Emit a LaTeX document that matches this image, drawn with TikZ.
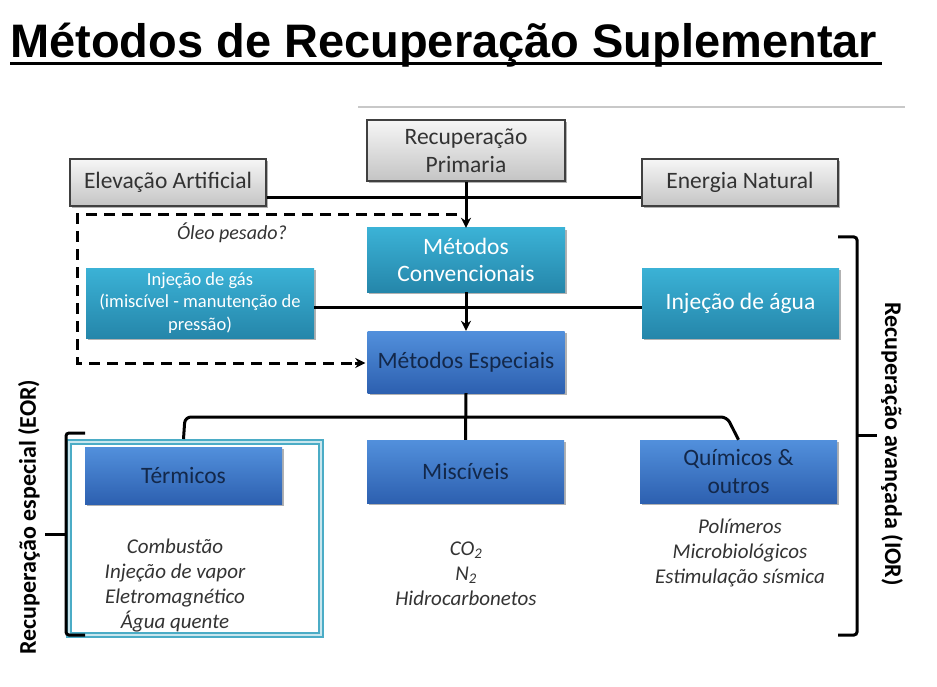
\documentclass[tikz,border=0pt]{standalone}
\usepackage{fontspec}
\setmainfont{Carlito}
\newfontfamily\titlefont{Liberation Sans}
\usetikzlibrary{shadows,arrows.meta}
\definecolor{grayTop}{HTML}{F6F6F6}
\definecolor{grayBot}{HTML}{C4C4C4}
\definecolor{grayEdge}{HTML}{404040}
\definecolor{tealTop}{HTML}{3BB2D6}
\definecolor{tealBot}{HTML}{2586AA}
\definecolor{blueTop}{HTML}{5290DC}
\definecolor{blueBot}{HTML}{2D60B0}
\definecolor{navy}{HTML}{13284A}
\definecolor{txtgray}{HTML}{333333}
\definecolor{frameC}{HTML}{4BACC6}
\definecolor{ruleGray}{HTML}{C8C8C8}
\tikzset{
  box/.style={rectangle, inner sep=2pt, align=center,
    drop shadow={shadow xshift=2pt, shadow yshift=-2pt, opacity=0.3, fill=black}},
  graybox/.style={box, draw=grayEdge, line width=1.3pt, top color=grayTop, bottom color=grayBot,
    text=txtgray, font=\fontsize{23.5}{27.5}\selectfont},
  tealbox/.style={box, top color=tealTop, bottom color=tealBot, text=white,
    font=\fontsize{23.5}{27.5}\selectfont},
  bluebox/.style={box, top color=blueTop, bottom color=blueBot, text=navy,
    font=\fontsize{23.5}{27.5}\selectfont},
  listtxt/.style={align=center, text=txtgray, font=\itshape\fontsize{21}{25}\selectfont},
  conn/.style={draw=black, line width=3pt},
  arr/.style={conn, -{Stealth[length=10pt,width=10pt]}},
  dashconn/.style={draw=black, line width=3pt, dash pattern=on 11pt off 7pt},
  bracket/.style={draw=black, line width=3pt, rounded corners=3pt},
  sidelabel/.style={font=\bfseries\fontsize{24}{28}\selectfont, text=black},
}
\begin{document}
\begin{tikzpicture}[x=1pt,y=-1pt]
\useasboundingbox[fill=white] (0,0) rectangle (937,687);

% title
\node[anchor=base west, inner sep=0pt] (title) at (10,57.5)
  {\titlefont\bfseries\fontsize{47}{50}\selectfont Métodos de Recuperação Suplementar};
\draw[line width=3.5pt] (10,63.5) -- (882,63.5);
\draw[ruleGray, line width=2pt] (358,107) -- (905,107);

% top row
\node[graybox, minimum width=198, minimum height=61] (rp) at (466,150.5) {Recuperação\\Primaria};
\node[graybox, minimum width=196, minimum height=47] (elev) at (168,182.5) {Elevação Artificial};
\node[graybox, minimum width=196, minimum height=47] (ener) at (740,182.5) {Energia Natural};

% conventional
\node[tealbox, minimum width=198, minimum height=64] (conv) at (466,260) {Métodos\\Convencionais};
\node[tealbox, minimum width=228, minimum height=70, font=\fontsize{18.5}{22.5}\selectfont] (gas) at (200,303)
  {Injeção de gás\\(imiscível - manutenção de\\pressão)};
\node[tealbox, minimum width=197, minimum height=70] (water) at (740.5,303) {Injeção de água};

% special
\node[bluebox, minimum width=197, minimum height=62] (esp) at (466,362) {Métodos Especiais};

% frame around thermal
\node[draw=frameC, line width=6pt, minimum width=252, minimum height=193, inner sep=0pt] (frm) at (195,538.5) {};
\node[draw=white!70!frameC, line width=1.3pt, minimum width=252, minimum height=193, inner sep=0pt] at (195,538.5) {};

% bottom row
\node[bluebox, minimum width=197, minimum height=57] (term) at (183.5,475.5) {Térmicos};
\node[bluebox, minimum width=197, minimum height=63] (mis) at (465.5,471.5) {Miscíveis};
\node[bluebox, minimum width=197, minimum height=63] (qui) at (738.5,471.5) {Químicos \&\\outros};

% lists
\node[listtxt] (lterm) at (175,585.5) {Combustão\\Injeção de vapor\\Eletromagnético\\Água quente};
\node[listtxt] (lmis) at (466,574) {CO\textsubscript{2}\\N\textsubscript{2}\\Hidrocarbonetos};
\node[listtxt] (lqui) at (740,553) {Polímeros\\Microbiológicos\\Estimulação sísmica};
\node[text=txtgray, font=\itshape\fontsize{20}{24}\selectfont] (oleo) at (232,233) {Óleo pesado?};

% connectors
\coordinate (hl) at (466,198);
\coordinate (ml) at (466,307);
\coordinate (d0) at (457,215);
\coordinate (d1) at (77,215);
\coordinate (d2) at (77,363);
\coordinate (bl) at (185,417);
\coordinate (brr) at (727,417);

\draw[conn] (elev.east |- hl) -- (ener.west |- hl);
\draw[arr] (rp.south) -- (conv.north);
\draw[conn] (gas.east |- ml) -- (water.west |- ml);
\draw[arr] (conv.south) -- (esp.north);
\draw[dashconn] (d0) -- (d1) -- (d2) -- ([xshift=-12pt]esp.west |- d2);
\draw[arr] ([xshift=-12pt]esp.west |- d2) -- ([xshift=-2pt]esp.west |- d2);
\draw[conn] (esp.south) -- (mis.north);
\draw[conn, rounded corners=6pt] (term.north |- frm.north) -- (bl) -- (brr) -- (qui.north);

% brackets
\draw[bracket] (85,433) -- (66,433) -- (66,635) -- (85,635);
\draw[bracket] (66,534) -- (45,534);
\draw[bracket] (838,237) -- (857,237) -- (857,635) -- (838,635);
\draw[bracket] (857,435) -- (877,435);

\node[sidelabel, rotate=90] (leor) at (29,517) {Recuperação especial (EOR)};
\node[sidelabel, rotate=-90] (lior) at (892,444) {Recuperação avançada (IOR)};
\end{tikzpicture}
\end{document}
